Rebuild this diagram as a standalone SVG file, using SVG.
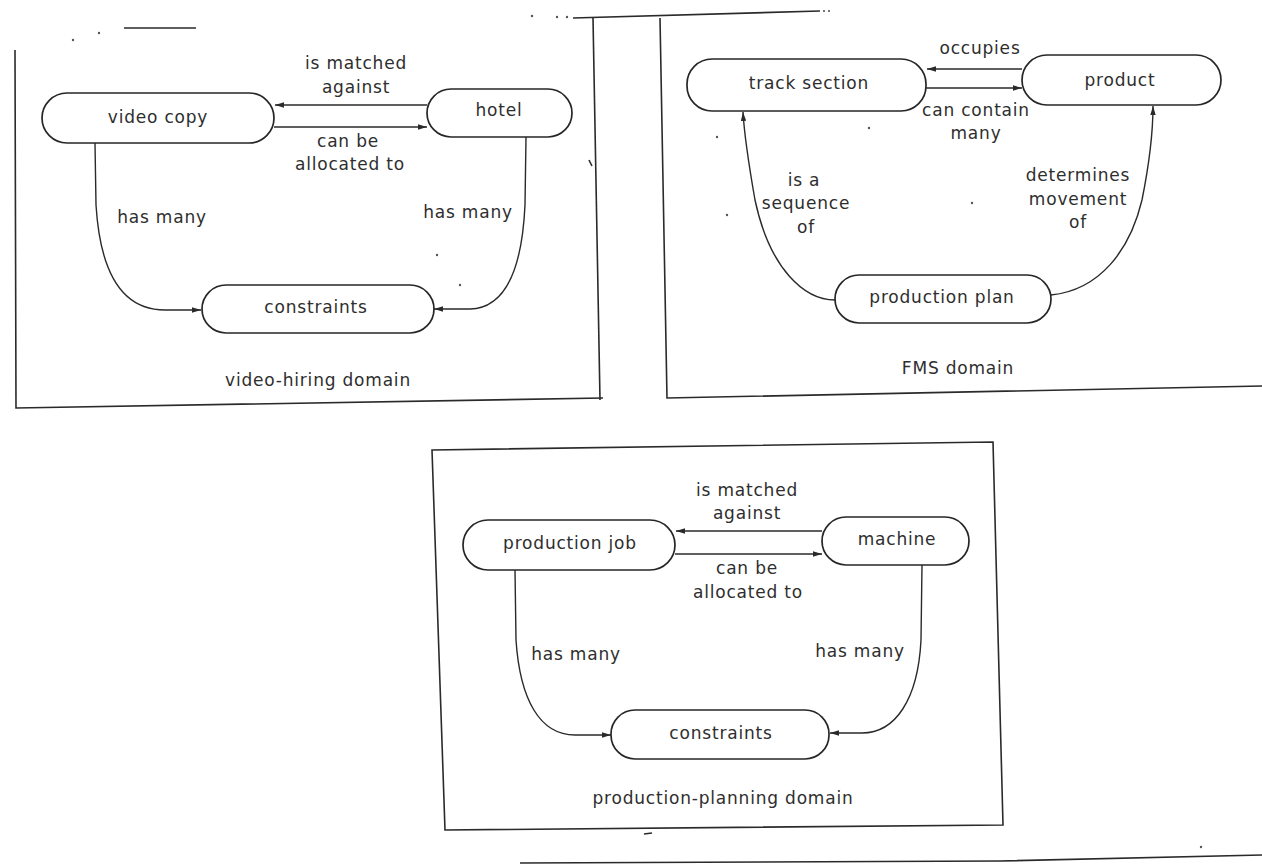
<svg xmlns="http://www.w3.org/2000/svg" width="1262" height="866" viewBox="0 0 1262 866">
  <style>
    .frame { fill: none; stroke: #2a2a2a; stroke-width: 1.6; }
    .node rect { fill: #ffffff; stroke: #262626; stroke-width: 1.7; }
    .node text, .lbl { font-family: "DejaVu Sans", "Liberation Sans", sans-serif; font-size: 17px; fill: #2e2e2e; text-anchor: middle; letter-spacing: 0.8px; }
    .conn path, .conn line { fill: none; stroke: #2a2a2a; stroke-width: 1.4; }
    .speck { fill: #555; }
  </style>
  <defs>
    <marker id="head" viewBox="0 0 10 6" refX="10" refY="3" markerWidth="9" markerHeight="5.4" markerUnits="userSpaceOnUse" orient="auto">
      <path d="M0,0 L10,3 L0,6 z" fill="#2a2a2a"/>
    </marker>
  </defs>
  <rect width="1262" height="866" fill="#ffffff"/>

  <!-- panel frames and stray page lines -->
  <g id="frames">
    <path class="frame" d="M15,50 L16,408 L603,398"/>
    <path class="frame" d="M593,18 L600,400"/>
    <path class="frame" d="M573,18 L820,11"/>
    <path class="frame" d="M124,28 L196,28"/>
    <path class="frame" d="M660,18 L667,398 L1262,386"/>
    <path class="frame" d="M432,450 L993,442 L1003,825 L445,830 Z"/>
    <path class="frame" d="M520,863 L1000,861 L1262,855"/>
    <path class="frame" d="M644,834 L652,833"/>
    <path class="frame" d="M589,160 L592,166"/>
    <circle class="speck" cx="73" cy="40" r="1.2"/>
    <circle class="speck" cx="99" cy="33" r="1.2"/>
    <circle class="speck" cx="532" cy="16" r="1.2"/>
    <circle class="speck" cx="557" cy="17" r="1.2"/>
    <circle class="speck" cx="567" cy="17" r="1.2"/>
    <circle class="speck" cx="824" cy="11" r="1.1"/>
    <circle class="speck" cx="829" cy="11" r="1.1"/>
    <circle class="speck" cx="437" cy="255" r="1.2"/>
    <circle class="speck" cx="460" cy="285" r="1.2"/>
    <circle class="speck" cx="717" cy="137" r="1.2"/>
    <circle class="speck" cx="869" cy="128" r="1.2"/>
    <circle class="speck" cx="727" cy="215" r="1.2"/>
    <circle class="speck" cx="972" cy="203" r="1.2"/>
    <circle class="speck" cx="1201" cy="847" r="1.2"/>
  </g>

  <!-- connectors -->
  <g id="connectors" class="conn">
    <!-- video-hiring domain -->
    <line x1="427" y1="105" x2="275" y2="105" marker-end="url(#head)"/>
    <line x1="274" y1="127" x2="427" y2="127" marker-end="url(#head)"/>
    <path d="M95,143 L96,205 C100,270 120,310 165,310 L201,310" marker-end="url(#head)"/>
    <path d="M526,137 L525,205 C522,270 505,308 470,309 L434,309" marker-end="url(#head)"/>
    <!-- FMS domain -->
    <line x1="1022" y1="69" x2="927" y2="69" marker-end="url(#head)"/>
    <line x1="926" y1="88" x2="1022" y2="88" marker-end="url(#head)"/>
    <path d="M835,300 C805,300 770,270 755,200 C748,160 744,130 743,112" marker-end="url(#head)"/>
    <path d="M1051,295 C1100,290 1130,250 1142,200 C1150,160 1153,130 1153,106" marker-end="url(#head)"/>
    <!-- production-planning domain -->
    <line x1="822" y1="531" x2="676" y2="531" marker-end="url(#head)"/>
    <line x1="675" y1="554" x2="822" y2="554" marker-end="url(#head)"/>
    <path d="M515,570 L516,640 C520,700 540,735 575,735 L611,735" marker-end="url(#head)"/>
    <path d="M922,565 L921,640 C918,700 895,733 862,733 L830,733" marker-end="url(#head)"/>
  </g>

  <!-- connector labels -->
  <g id="labels">
    <text class="lbl" x="356" y="69">is matched</text>
    <text class="lbl" x="356" y="93">against</text>
    <text class="lbl" x="348" y="147">can be</text>
    <text class="lbl" x="350" y="170">allocated to</text>
    <text class="lbl" x="162" y="223">has many</text>
    <text class="lbl" x="468" y="218">has many</text>

    <text class="lbl" x="980" y="54">occupies</text>
    <text class="lbl" x="976" y="116">can contain</text>
    <text class="lbl" x="976" y="139">many</text>
    <text class="lbl" x="804" y="186">is a</text>
    <text class="lbl" x="806" y="209">sequence</text>
    <text class="lbl" x="806" y="233">of</text>
    <text class="lbl" x="1078" y="181">determines</text>
    <text class="lbl" x="1078" y="205">movement</text>
    <text class="lbl" x="1078" y="228">of</text>

    <text class="lbl" x="747" y="496">is matched</text>
    <text class="lbl" x="747" y="519">against</text>
    <text class="lbl" x="747" y="574">can be</text>
    <text class="lbl" x="748" y="598">allocated to</text>
    <text class="lbl" x="576" y="660">has many</text>
    <text class="lbl" x="860" y="657">has many</text>
  </g>

  <!-- domain captions -->
  <g id="captions">
    <text class="lbl" x="318" y="386">video-hiring domain</text>
    <text class="lbl" x="958" y="374">FMS domain</text>
    <text class="lbl" x="723" y="804">production-planning domain</text>
  </g>

  <!-- video-hiring domain nodes -->
  <g id="video-copy" class="node">
    <rect x="42" y="93" width="232" height="50" rx="25"/>
    <text x="158" y="123">video copy</text>
  </g>
  <g id="hotel" class="node">
    <rect x="427" y="89" width="145" height="48" rx="24"/>
    <text x="499" y="116">hotel</text>
  </g>
  <g id="constraints-1" class="node">
    <rect x="202" y="285" width="232" height="48" rx="24"/>
    <text x="316" y="313">constraints</text>
  </g>

  <!-- FMS domain nodes -->
  <g id="track-section" class="node">
    <rect x="687" y="59" width="239" height="52" rx="25"/>
    <text x="809" y="89">track section</text>
  </g>
  <g id="product" class="node">
    <rect x="1022" y="55" width="199" height="50" rx="25"/>
    <text x="1120" y="86">product</text>
  </g>
  <g id="production-plan" class="node">
    <rect x="835" y="275" width="216" height="48" rx="24"/>
    <text x="942" y="303">production plan</text>
  </g>

  <!-- production-planning domain nodes -->
  <g id="production-job" class="node">
    <rect x="463" y="520" width="212" height="50" rx="25"/>
    <text x="570" y="549">production job</text>
  </g>
  <g id="machine" class="node">
    <rect x="822" y="517" width="147" height="48" rx="24"/>
    <text x="897" y="545">machine</text>
  </g>
  <g id="constraints-2" class="node">
    <rect x="611" y="710" width="218" height="49" rx="24"/>
    <text x="721" y="739">constraints</text>
  </g>
</svg>
